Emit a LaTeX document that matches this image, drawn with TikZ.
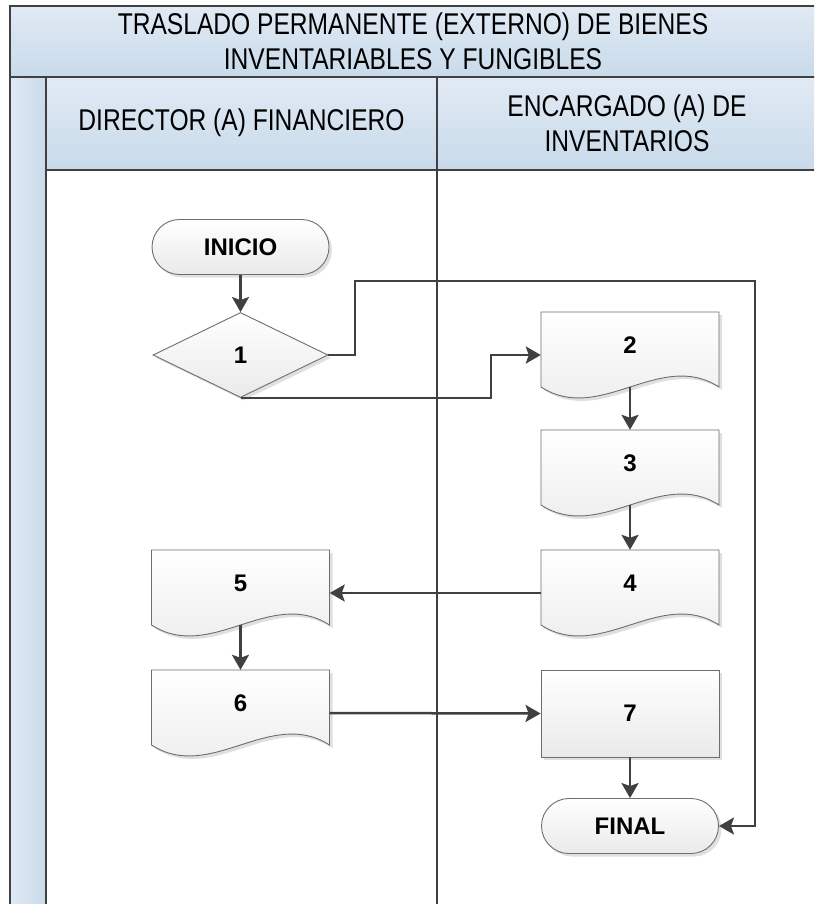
\documentclass[tikz,border=0pt]{standalone}
\usepackage{fontspec}
\setmainfont{Liberation Sans}
\newfontfamily\narrowfont[FakeStretch=0.82]{Liberation Sans}
\usetikzlibrary{arrows.meta,shapes.geometric,shapes.misc,shadows}

\definecolor{laneblue}{HTML}{C8DAEA}
\definecolor{lanelight}{HTML}{E1EAF4}
\definecolor{edgegray}{HTML}{6E6E6E}
\definecolor{flowgray}{HTML}{404040}
\definecolor{nodelow}{HTML}{EAEAEA}

\tikzset{
  headbox/.style={draw=flowgray, line width=1.2pt, top color=lanelight, bottom color=laneblue},
  headtext/.style={font=\narrowfont\fontsize{30}{35}\selectfont, align=center},
  nodeshadow/.style={fill=black!30, opacity=0.4},
  flownode/.style={draw=edgegray, line width=0.9pt, top color=white, bottom color=nodelow,
    font=\bfseries\fontsize{24}{28}\selectfont, inner sep=0pt,
    drop shadow={shadow xshift=3pt, shadow yshift=-3pt, nodeshadow}},
  termbox/.style={flownode, rounded rectangle, minimum width=177pt, minimum height=55pt},
  decbox/.style={flownode, diamond, minimum width=175pt, minimum height=85pt},
  procbox/.style={flownode, rectangle, minimum width=178pt, minimum height=87pt},
  docbox/.style={inner sep=0pt, minimum width=178pt, minimum height=86pt,
    font=\bfseries\fontsize{24}{28}\selectfont},
  flow/.style={draw=flowgray, line width=2.5pt, -{Stealth[length=15pt,width=17pt,inset=3pt]}},
}

% document symbol: flat top, wavy bottom
\newcommand\docoutline[2]{({#1-89},{#2-43}) -- ({#1+89},{#2-43}) -- ({#1+89},{#2+32})
  .. controls +(-59,-38) and +(59,38) .. ({#1-89},{#2+32}) -- cycle}
\newcommand\docnode[4]{%
  \fill[nodeshadow, shift={(3,3)}] \docoutline{#2}{#3};
  \draw[draw=edgegray, line width=0.9pt, top color=white, bottom color=nodelow] \docoutline{#2}{#3};
  \node[docbox] (#1) at (#2,#3) {\raisebox{2pt}[0pt][0pt]{#4}};
  \coordinate (#1-w) at (#2,{#3+32});
}

\begin{document}
\begin{tikzpicture}[x=1pt, y=-1pt]
\useasboundingbox (0,0) rectangle (814,904);
\clip (0,0) rectangle (814,904);
\fill[white] (0,0) rectangle (814,904);

\draw[headbox] (10,6) rectangle (817,77);
\draw[headbox] (46,77) rectangle (437,170);
\draw[headbox] (437,77) rectangle (817,170);
\draw[headbox, left color=lanelight, right color=laneblue] (10,77) rectangle (46,910);
\draw[flowgray, line width=1.2pt] (437,170) -- (437,910);
\draw[flowgray, line width=2pt] (10,6) -- (10,910);

\node[headtext] (title) at (413,41) {TRASLADO PERMANENTE (EXTERNO) DE BIENES\\INVENTARIABLES Y FUNGIBLES};
\node[headtext] (laneA) at (241.5,123) {DIRECTOR (A) FINANCIERO};
\node[headtext] (laneB) at (627,123) {ENCARGADO (A) DE\\INVENTARIOS};

\node[termbox] (inicio) at (240.5,247) {INICIO};
\node[decbox] (d1) at (240.5,355) {1};
\docnode{doc2}{630}{355}{2}
\docnode{doc3}{630}{473}{3}
\docnode{doc4}{630}{593}{4}
\docnode{doc5}{240.5}{593}{5}
\docnode{doc6}{240.5}{713}{6}
\node[procbox] (p7) at (630,713.5) {7};
\node[termbox] (final) at (630,826) {FINAL};

\coordinate (loopA) at (355,281);
\coordinate (loopB) at (755,281);
\coordinate (stepA) at (491,355);

\draw[flow] (inicio.south) -- (d1.north);
\draw[flow] (d1.east) -| (loopA) -- (loopB) |- (final.east);
\draw[flow] (d1.south) -| (stepA) -- (doc2.west);
\draw[flow] (doc2-w) -- (doc3.north);
\draw[flow] (doc3-w) -- (doc4.north);
\draw[flow] (doc4.west) -- (doc5.east);
\draw[flow] (doc5-w) -- (doc6.north);
\draw[flow] (doc6.east) -- (p7.west);
\draw[flow] (p7.south) -- (final.north);
\end{tikzpicture}
\end{document}
